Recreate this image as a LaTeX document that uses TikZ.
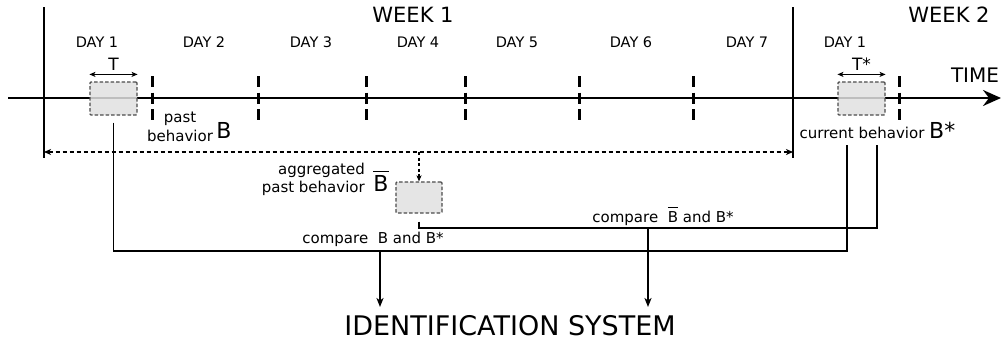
\documentclass[tikz,border=0pt]{standalone}
\usepackage{fontspec}
\setmainfont{DejaVu Sans}
\usetikzlibrary{arrows.meta}
\newcommand\barB{$\overline{\raisebox{0pt}[\dimexpr\height+3pt\relax]{B}}$}
\begin{document}
\begin{tikzpicture}[x=1pt,y=-1pt,
  daylbl/.style={font=\fontsize{14.5}{17}\selectfont, inner sep=0pt},
  lbl/.style={font=\fontsize{15}{19}\selectfont, inner sep=0pt},
  bigB/.style={font=\fontsize{22}{24}\selectfont, inner sep=0pt},
  weeklbl/.style={font=\fontsize{21}{24}\selectfont, inner sep=0pt},
  behbox/.style={draw=black!70, dash pattern=on 3.5pt off 2pt, fill=black!12, line width=1.2pt,
     minimum width=47pt, minimum height=33pt, inner sep=0pt, rounded corners=1pt, fill opacity=0.85, draw opacity=1},
  daytick/.style={line width=3pt, dash pattern=on 11pt off 5.5pt},
  sep/.style={line width=1.6pt},
  conn/.style={line width=1.7pt},
  dconn/.style={line width=1.3pt, dash pattern=on 4pt off 3pt},
  dtip/.tip={Stealth[length=7pt,width=6pt,inset=2pt]},
  ttip/.tip={Stealth[length=6pt,width=5pt,inset=1.5pt]},
]
\useasboundingbox (0,0) rectangle (1002,343);

% time axis
\coordinate (ax0) at (8,98);
\coordinate (ax1) at (1001,98);
\draw[line width=2.5pt,-{Stealth[length=18pt,width=16pt,inset=6pt]}] (ax0) -- (ax1);
\node[font=\fontsize{20}{22}\selectfont, inner sep=0pt] (time) at (975,75) {TIME};

% week separators
\draw[sep] (44,7) -- (44,158);
\draw[sep] (793,7) -- (793,158);
\node[weeklbl] (w1) at (413,15) {WEEK 1};
\node[weeklbl] (w2) at (949,15) {WEEK 2};

% day ticks
\foreach \x in {152,258,366,465,579,693,899} \draw[daytick] (\x,76) -- (\x,120);

% day labels
\node[daylbl] (d1) at (97,42) {DAY 1};
\node[daylbl] (d2) at (204,42) {DAY 2};
\node[daylbl] (d3) at (311,42) {DAY 3};
\node[daylbl] (d4) at (418,42) {DAY 4};
\node[daylbl] (d5) at (517,42) {DAY 5};
\node[daylbl] (d6) at (631,42) {DAY 6};
\node[daylbl] (d7) at (747,42) {DAY 7};
\node[daylbl] (d8) at (845,42) {DAY 1};

% behavior boxes
\node[behbox] (b1) at (113.5,98.5) {};
\node[behbox] (b2) at (861.5,98.5) {};
\draw[line width=1.3pt,{ttip}-{ttip}] ([yshift=7pt]b1.north west) -- ([yshift=7pt]b1.north east);
\draw[line width=1.3pt,{ttip}-{ttip}] ([yshift=7pt]b2.north west) -- ([yshift=7pt]b2.north east);
\node[font=\fontsize{17}{19}\selectfont, inner sep=0pt] (tl) at (113.5,64) {T};
\node[font=\fontsize{17}{19}\selectfont, inner sep=0pt] (tsl) at (861.5,64) {T*};

\node[lbl, align=center, font=\fontsize{15}{19}\selectfont] (past) at (180,127) {past\\behavior};
\node[bigB] (bB) at (224,130) {B};
\node[lbl, anchor=base] (cur) at (877.5,138) {current behavior {\fontsize{22}{24}\selectfont B*}};

% aggregated
\coordinate (wl) at (44,152);
\coordinate (wr) at (793,152);
\draw[dconn,{dtip}-{dtip}] (wl) -- (wr);
\node[behbox, minimum width=46pt, minimum height=31pt] (bagg) at (419,197.5) {};
\coordinate (ag) at (bagg.north |- wl);
\draw[line width=1.1pt, dash pattern=on 3pt off 2.5pt, -{Stealth[length=6pt,width=5pt,inset=1.5pt]}] (ag) -- (bagg.north);
\node[lbl, align=right, anchor=east, font=\fontsize{15}{18}\selectfont] (aggl) at (365,179) {aggregated\\past behavior};
\node[bigB] (bbar) at (381,181) {\barB};

% comparisons
\coordinate (c1) at (847,145);
\coordinate (c2) at (877,145);
\coordinate (j1) at (380,251);
\coordinate (j2) at (648,228);
\draw[conn] ([yshift=-7pt]b1.south) |- (c1 |- j1) -- (c1);
\draw[conn] ([yshift=-8pt]bagg.south) |- (c2 |- j2) -- (c2);

\node[lbl] (cmp1) at (373,239) {compare\ \ B and B*};
\node[lbl] (cmp2) at (663,216) {compare\ \ \barB\ and B*};

\node[font=\fontsize{27}{30}\selectfont, inner sep=0pt] (ids) at (510,326) {IDENTIFICATION SYSTEM};
\coordinate (t1) at (380,307);
\coordinate (t2) at (648,307);
\draw[conn,-{Stealth[length=9pt,width=7pt,inset=2.5pt]}] (j1) -- (t1);
\draw[conn,-{Stealth[length=9pt,width=7pt,inset=2.5pt]}] (j2) -- (t2);
\end{tikzpicture}
\end{document}
